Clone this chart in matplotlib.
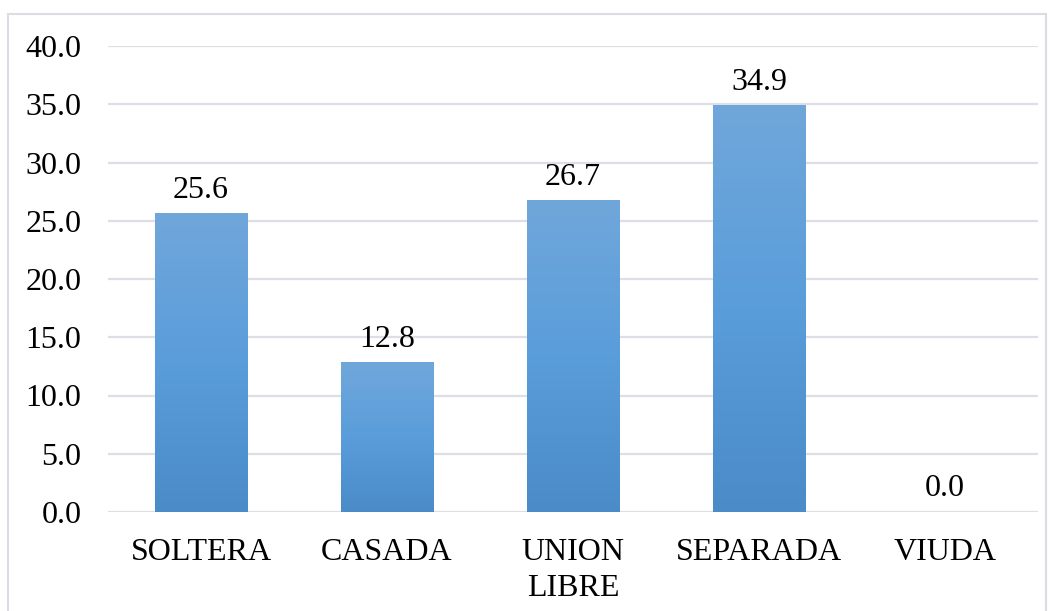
import numpy as np
import matplotlib.pyplot as plt
from matplotlib.patches import Rectangle
from matplotlib.colors import LinearSegmentedColormap

categorias = ["SOLTERA", "CASADA", "UNION\nLIBRE", "SEPARADA", "VIUDA"]
valores = [25.6, 12.8, 26.7, 34.9, 0.0]
yticks = [0, 5, 10, 15, 20, 25, 30, 35, 40]

plt.rcParams['font.family'] = ['Liberation Serif', 'DejaVu Serif']

W, H = 1054, 611
fig = plt.figure(figsize=(W / 100, H / 100), dpi=100)
ax = fig.add_axes([108 / W, 1 - 512 / H, 930 / W, (512 - 46) / H])

# marco exterior gris claro
fig.patches.append(Rectangle((8 / W, -0.05), (1046 - 8) / W, 1.05 - 14 / H,
                             transform=fig.transFigure, fill=False,
                             edgecolor="#dadde3", linewidth=1.5))

cmap = LinearSegmentedColormap.from_list("azul", ["#4a8bc8", "#5a9ddb", "#70a7da"])
grad = np.linspace(0, 1, 256).reshape(-1, 1)

x = np.arange(len(categorias))
ancho = 0.5
barras = ax.bar(x, valores, width=ancho, color="none", zorder=2)
for b, v in zip(barras, valores):
    if v > 0:
        ax.imshow(grad, cmap=cmap, aspect="auto", origin="lower",
                  extent=(b.get_x(), b.get_x() + b.get_width(), 0, v), zorder=2)
    ax.text(b.get_x() + b.get_width() / 2, v + 0.75, f"{v:.1f}",
            ha="center", va="bottom", fontsize=23)

ax.set_xlim(-0.5, len(categorias) - 0.5)
ax.set_ylim(0, 40)
ax.set_yticks(yticks)
ax.set_yticklabels([f"{t:.1f}" for t in yticks], fontsize=23)
ax.set_xticks(x)
ax.set_xticklabels(categorias, fontsize=23, linespacing=1.3)
ax.yaxis.grid(True, color="#dcdfe5", linewidth=1.6, zorder=0)
ax.set_axisbelow(True)
for s in ax.spines.values():
    s.set_visible(False)
ax.tick_params(axis="y", length=0, pad=19)
ax.tick_params(axis="x", length=0, pad=19)

fig.savefig("out.png", dpi=100)
